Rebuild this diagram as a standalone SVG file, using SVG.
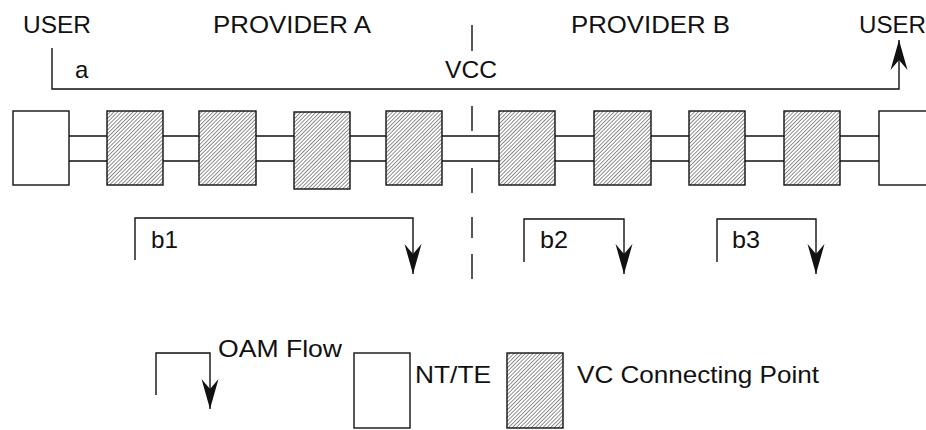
<svg xmlns="http://www.w3.org/2000/svg" width="926" height="430" viewBox="0 0 926 430">
<style>
  text { font-family: "Liberation Sans", Arial, sans-serif; font-size: 24px; fill: #111; }
  .ln { stroke: #111; stroke-width: 1.4; fill: none; }
  .nt { fill: #fff; stroke: #111; stroke-width: 1.4; }
  .vc { fill: url(#hatch); stroke: #111; stroke-width: 1.4; }
  .arr { stroke: #111; stroke-width: 1.4; fill: none; marker-end: url(#ah); }
</style>
<defs>
  <pattern id="hatch" patternUnits="userSpaceOnUse" width="2.7" height="2.7" patternTransform="rotate(45)">
    <rect width="2.7" height="2.7" fill="#fff"/>
    <line x1="0" y1="0" x2="0" y2="2.7" stroke="#222" stroke-width="1"/>
  </pattern>
  <marker id="ah" markerUnits="userSpaceOnUse" markerWidth="34" markerHeight="20" viewBox="-32 -10 34 20" refX="0" refY="0" orient="auto">
    <path d="M0,0 L-30,-8.5 L-20,0 L-30,8.5 Z" fill="#111"/>
  </marker>
</defs>
<rect width="926" height="430" fill="#fff"/>

<g id="labels">
  <text x="23" y="33" textLength="68" lengthAdjust="spacingAndGlyphs">USER</text>
  <text x="213" y="33" textLength="158" lengthAdjust="spacingAndGlyphs">PROVIDER A</text>
  <text x="571" y="33" textLength="159" lengthAdjust="spacingAndGlyphs">PROVIDER B</text>
  <text x="859" y="33" textLength="67" lengthAdjust="spacingAndGlyphs">USER</text>
  <text x="75" y="78">a</text>
  <text x="445" y="78" textLength="52" lengthAdjust="spacingAndGlyphs">VCC</text>
  <text x="151" y="248" textLength="27" lengthAdjust="spacingAndGlyphs">b1</text>
  <text x="540" y="248" textLength="28" lengthAdjust="spacingAndGlyphs">b2</text>
  <text x="732" y="248" textLength="28" lengthAdjust="spacingAndGlyphs">b3</text>
</g>

<g id="connectors">
  <!-- VC link parallel lines -->
  <line class="ln" x1="69" y1="136" x2="879" y2="136"/>
  <line class="ln" x1="69" y1="161" x2="879" y2="161"/>
  <!-- provider boundary -->
  <path class="ln" d="M472,25 V51 M472,106 V131 M472,168 V193 M472,217 V238 M472,254 V279"/>
  <!-- end-to-end flow a -->
  <path class="arr" d="M52,48 V89 H899 V40"/>
  <!-- segment flows -->
  <path class="arr" d="M135,260 V218 H413 V274"/>
  <path class="arr" d="M524,262 V219 H624 V274"/>
  <path class="arr" d="M717,262 V219 H816 V274"/>
</g>

<g id="nt-left"><rect class="nt" x="13" y="111" width="56" height="74"/></g>
<g id="vc1"><rect class="vc" x="107" y="111" width="56" height="74"/></g>
<g id="vc2"><rect class="vc" x="199" y="111" width="57" height="74"/></g>
<g id="vc3"><rect class="vc" x="294" y="112" width="56" height="77"/></g>
<g id="vc4"><rect class="vc" x="386" y="111" width="56" height="74"/></g>
<g id="vc5"><rect class="vc" x="499" y="111" width="56" height="74"/></g>
<g id="vc6"><rect class="vc" x="594" y="111" width="57" height="74"/></g>
<g id="vc7"><rect class="vc" x="689" y="111" width="56" height="74"/></g>
<g id="vc8"><rect class="vc" x="784" y="111" width="56" height="74"/></g>
<g id="nt-right"><rect class="nt" x="879" y="111" width="60" height="74"/></g>

<g id="legend">
  <path class="arr" d="M156,395 V353 H210 V409"/>
  <text x="218" y="357" textLength="124" lengthAdjust="spacingAndGlyphs">OAM Flow</text>
  <rect class="nt" x="354" y="353" width="56" height="75"/>
  <text x="415" y="383" textLength="76" lengthAdjust="spacingAndGlyphs">NT/TE</text>
  <rect class="vc" x="507" y="353" width="56" height="75"/>
  <text x="577" y="383" textLength="242" lengthAdjust="spacingAndGlyphs">VC Connecting Point</text>
</g>
</svg>
